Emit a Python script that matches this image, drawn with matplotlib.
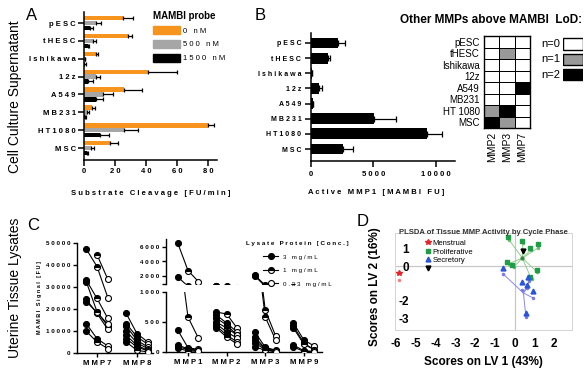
import matplotlib
matplotlib.use('Agg')
import matplotlib.pyplot as plt
import numpy as np
from matplotlib.patches import Patch, Rectangle
from matplotlib.lines import Line2D
from matplotlib.colors import ListedColormap

plt.rcParams['font.family'] = ['Liberation Sans', 'DejaVu Sans']

# ---- data ----
cells = ['pESC', 'tHESC', 'Ishikawa', '12z', 'A549', 'MB231', 'HT1080', 'MSC']

# Panel A: substrate cleavage [FU/min], mean and mean+err
a_0nM = [25.3, 28.0, 7.6, 40.9, 25.7, 5.4, 80.0, 17.0]
a_0nM_hi = [31.8, 31.0, 9.0, 59.5, 37.0, 7.0, 83.7, 22.0]
a_500nM = [7.6, 5.8, 0.5, 7.6, 12.3, 2.0, 25.7, 4.8]
a_500nM_hi = [11.0, 8.0, 0.8, 10.0, 18.4, 3.2, 34.4, 6.5]
a_1500nM = [3.7, 2.6, 0.3, 2.6, 8.0, 0.9, 10.2, 2.0]
a_1500nM_hi = [6.0, 3.5, 1.5, 5.8, 12.3, 1.5, 16.0, 2.6]
probe_labels = ['0 nM', '500 nM', '1500 nM']

# Panel B: active MMP1 [MAMBI FU]
b_mmp1 = [2190, 1390, 100, 670, 150, 5050, 9310, 2540]
b_mmp1_hi = [2730, 1520, 120, 850, 170, 6790, 10510, 3400]

# heatmap: other MMPs above LoD (n of 2)
hm_cols = ['MMP2', 'MMP3', 'MMP7']
hm_rows = ['pESC', 'tHESC', 'Ishikawa', '12z', 'A549', 'MB231', 'HT 1080', 'MSC']
hm_vals = [[0, 0, 0], [0, 1, 0], [0, 0, 0], [0, 0, 0],
           [0, 0, 2], [0, 0, 0], [1, 2, 0], [2, 1, 0]]
hm_levels = [0, 1, 2]

# Panel C: MAMBI signal per tissue sample at 3, 1, 0.33 mg/mL
conc_labels = ['3 mg/mL', '1 mg/mL', '0.33 mg/mL']
mmp7 = [[47300, 39300, 25200], [np.nan, 44700, 33500], [33200, 24800, 15700],
        [32500, 18800, 12200], [24400, 18000, 10700], [23300, 18500, 13000],
        [13400, 6500, 3200], [9900, 5000, 2000]]
mmp8 = [[18000, 8800, 5000], [13400, 7300, 4000], [12200, 5800, 2700],
        [10000, 4600, 2000], [8000, 3500, 1200], [6500, 2700, 1000], [5000, 1200, 500]]
mmp1 = [[6600, 2750, 1230], [1900, 580, 230], [370, 70, 45], [120, 50, 30],
        [90, 40, 20], [60, 20, 10]]
mmp2 = [[667, 633, 400], [617, 483, 333], [567, 450, 283], [500, 400, 283],
        [470, 333, 233], [433, 283, 167], [400, 250, 133]]
mmp3 = [[2130, 700, 267], [2000, 583, 200], [333, 80, 30], [250, 60, 20],
        [200, 50, 15], [150, 40, 10], [83, 30, 5]]
mmp9 = [[483, 200, 100], [433, 150, 33], [400, 130, 40], [117, 20, 10], [83, 10, 5]]
c_left_names = ['MMP7', 'MMP8']
c_right_names = ['MMP1', 'MMP2', 'MMP3', 'MMP9']

# Panel D: PLSDA scores (LV1, LV2)
men_x, men_y = [-5.84], [-0.38]
men_dot_x, men_dot_y = [-5.84], [-0.80]
pro_x = [-0.34, 0.36, 0.78, 1.21, -0.40, -0.14, 1.12, 0.78]
pro_y = [1.67, 1.44, 1.07, 1.27, 0.26, 0.05, -0.20, -0.64]
pro_dot_x = [-0.28, 0.42, 0.84, 1.18, -0.30, -0.05, 1.16, 0.86]
pro_dot_y = [1.52, 1.33, 0.96, 1.05, 0.14, -0.06, -0.36, -0.76]
pro_cent = (0.40, 0.47)
sec_x = [-0.57, 0.36, 0.70, 0.65, 0.95, 0.58]
sec_y = [-0.10, -0.91, -0.64, -1.10, -1.45, -2.71]
sec_dot_x = [-0.57, 0.36, 0.75, 0.65, 0.95, 0.58]
sec_dot_y = [-0.45, -1.36, -0.87, -1.26, -1.84, -2.95]
sec_cent = (0.45, -1.55)
black_x, black_y = [0.45], [0.90]

# ---- layout helpers ----
W, H = 585, 378


def box(l, t, r, b):
    return [l / W, 1 - b / H, (r - l) / W, (b - t) / H]


def sp(s):
    return ' '.join(s)


fig = plt.figure(figsize=(W / 100, H / 100), dpi=100)

# ---------------- Panel A ----------------
orange, grey = '#f7941d', '#a6a6a6'
axA = fig.add_axes(box(84, 12, 217, 160))
y = np.arange(len(cells))
for off, vals, hi, col in zip([-0.27, 0, 0.27],
                              [a_0nM, a_500nM, a_1500nM],
                              [a_0nM_hi, a_500nM_hi, a_1500nM_hi],
                              [orange, grey, 'black']):
    vals = np.array(vals)
    axA.barh(y + off, vals, height=0.25, color=col)
    axA.errorbar(vals, y + off, xerr=[np.zeros(len(vals)), np.array(hi) - vals],
                 fmt='none', ecolor='k', elinewidth=0.9, capsize=1.5, capthick=0.9)
axA.set_xlim(0, 85.5)
axA.set_ylim(7.67, -0.62)
axA.set_xticks([0, 20, 40, 60, 80])
axA.set_xticklabels([sp(str(v)) for v in [0, 20, 40, 60, 80]], fontsize=5.5, weight='bold')
axA.set_yticks(y)
axA.set_yticklabels([sp(c) for c in cells], fontsize=5.5, weight='bold')
axA.set_xlabel(sp('Substrate Cleavage [FU/min]'), fontsize=5.5, weight='bold')
axA.xaxis.set_label_coords(0.5, -0.2)
for s in ['top', 'right']:
    axA.spines[s].set_visible(False)
for s in ['left', 'bottom']:
    axA.spines[s].set_linewidth(1.1)
axA.tick_params(width=1.1, length=4, pad=2)

handles = [Patch(color=c) for c in [orange, grey, 'black']]
axA.legend(handles, [sp(l) for l in probe_labels], loc='upper left',
           bbox_to_anchor=(149 / W, 1 - 7 / H), bbox_transform=fig.transFigure,
           frameon=False, title='MAMBI probe',
           title_fontproperties={'weight': 'bold', 'size': 7}, fontsize=5.5,
           handlelength=3.5, handleheight=1.2, labelspacing=0.7, borderpad=0,
           handletextpad=0.5, alignment='left')

fig.text(32 / W, 1 - 15 / H, 'A', fontsize=12, ha='center', va='center')
fig.text(15 / W, 1 - 97 / H, 'Cell Culture Supernatant', fontsize=10, rotation=90,
         ha='center', va='center')

# ---------------- Panel B ----------------
axB = fig.add_axes(box(311, 33, 455, 161))
b = np.array(b_mmp1)
axB.barh(y, b, height=0.72, color='black')
axB.errorbar(b, y, xerr=[np.zeros(len(b)), np.array(b_mmp1_hi) - b], fmt='none',
             ecolor='k', elinewidth=0.9, capsize=2, capthick=0.9)
axB.set_xlim(0, 11560)
axB.set_ylim(7.79, -0.66)
axB.set_xticks([0, 5000, 10000])
axB.set_xticklabels([sp(str(v)) for v in [0, 5000, 10000]], fontsize=5.5, weight='bold')
axB.set_yticks(y)
axB.set_yticklabels([sp(c) for c in cells], fontsize=5, weight='bold')
axB.set_xlabel(sp('Active MMP1 [MAMBI FU]'), fontsize=5.5, weight='bold')
axB.xaxis.set_label_coords(0.45, -0.22)
for s in ['top', 'right']:
    axB.spines[s].set_visible(False)
for s in ['left', 'bottom']:
    axB.spines[s].set_linewidth(1.1)
axB.tick_params(width=1.1, length=4, pad=3)
fig.text(260 / W, 1 - 15 / H, 'B', fontsize=12, ha='center', va='center')

# heatmap
cmap = ListedColormap(['white', '#999999', 'black'])
axH = fig.add_axes(box(484, 36, 530, 128))
axH.pcolormesh(np.array(hm_vals), cmap=cmap, vmin=-0.5, vmax=2.5,
               edgecolors='k', linewidth=0.6)
axH.set_ylim(len(hm_rows), 0)
axH.set_xticks(np.arange(len(hm_cols)) + 0.5)
axH.set_xticklabels(hm_cols, rotation=90, fontsize=7.5)
axH.set_yticks(np.arange(len(hm_rows)) + 0.5)
axH.set_yticklabels(hm_rows, fontsize=7)
axH.tick_params(length=0, pad=3)
for s in axH.spines.values():
    s.set_linewidth(1.0)

axK = fig.add_axes(box(563, 37, 583, 83))
axK.set_xlim(0, 1)
axK.set_ylim(3, 0)
axK.axis('off')
for i, lvl in enumerate(hm_levels):
    axK.add_patch(Rectangle((0, i + 0.08), 1, 0.74, facecolor=cmap(lvl),
                            edgecolor='k', linewidth=1.0))
    axK.text(-0.12, i + 0.45, f'n={lvl}', ha='right', va='center', fontsize=8)

fig.text(400 / W, 1 - 20 / H, 'Other MMPs above MAMBI  LoD:', fontsize=8.5,
         weight='bold', va='center')

# ---------------- Panel C ----------------
offs = np.array([-0.27, 0, 0.27])
mstyles = [dict(marker='o', mfc='k', mec='k'),
           dict(marker='o', fillstyle='top', mfc='k', mfcalt='w', mec='k'),
           dict(marker='o', mfc='w', mec='k')]


def draw_group(ax, i, samples):
    for s in samples:
        ax.plot(i + offs, s, color='k', lw=0.8, zorder=2)
    for s in samples:
        for j in range(3):
            ax.plot(i + offs[j], s[j], ls='none', markersize=4.3, mew=0.8,
                    zorder=3, **mstyles[j])


axC1 = fig.add_axes(box(77, 243, 153, 353))
for i, g in enumerate([mmp7, mmp8]):
    draw_group(axC1, i, g)
axC1.set_xlim(-0.5, 1.4)
axC1.set_ylim(0, 50000)
axC1.set_yticks(range(0, 50001, 10000))
axC1.set_yticklabels([sp(str(v)) for v in range(0, 50001, 10000)], fontsize=4.5,
                     weight='bold')
axC1.set_xticks(range(len(c_left_names)))
axC1.set_xticklabels([sp(n) for n in c_left_names], fontsize=5.5, weight='bold')
axC1.set_ylabel(sp('MAMBI Signal [FU]'), fontsize=4, weight='bold')
axC1.yaxis.set_label_coords(-0.46, 0.5)

axC2t = fig.add_axes(box(166, 239, 322, 284))
axC2b = fig.add_axes(box(166, 292, 322, 352))
for ax in [axC2t, axC2b]:
    for i, g in enumerate([mmp1, mmp2, mmp3, mmp9]):
        draw_group(ax, i, g)
    ax.set_xlim(-0.57, 3.47)
axC2t.set_ylim(900, 7100)
axC2t.set_yticks([900, 2000, 4000, 6000])
axC2t.set_yticklabels(['', sp('2000'), sp('4000'), sp('6000')], fontsize=4.5,
                      weight='bold')
axC2t.set_xticks([])
axC2t.spines['bottom'].set_visible(False)
axC2b.set_ylim(0, 1000)
axC2b.set_yticks([0, 500, 1000])
axC2b.set_yticklabels([sp(str(v)) for v in [0, 500, 1000]], fontsize=4.5, weight='bold')
axC2b.set_xticks(range(len(c_right_names)))
axC2b.set_xticklabels([sp(n) for n in c_right_names], fontsize=5.5, weight='bold')
axC2b.spines['top'].set_visible(False)

for ax in [axC1, axC2t, axC2b]:
    ax.spines['top'].set_visible(False)
    ax.spines['right'].set_visible(False)
    for s in ['left', 'bottom']:
        ax.spines[s].set_linewidth(1.0)
    ax.tick_params(width=1.0, length=3, pad=2)

c_handles = [Line2D([], [], color='k', lw=0.8, markersize=4.3, mew=0.8, **m)
             for m in mstyles]
fig.legend(c_handles, [sp(l) for l in conc_labels], loc='upper left',
           bbox_to_anchor=(243 / W, 1 - 238 / H), frameon=False,
           title=sp('Lysate Protein [Conc.]'),
           title_fontproperties={'weight': 'bold', 'size': 4.5}, fontsize=4.5,
           handlelength=2.4, labelspacing=1.3, borderpad=0, handletextpad=0.8)

fig.text(33 / W, 1 - 226 / H, 'C', fontsize=12, ha='center', va='center')
fig.text(15 / W, 1 - 288 / H, 'Uterine Tissue Lysates', fontsize=10, rotation=90,
         ha='center', va='center')

# ---------------- Panel D ----------------
red, green, blue = '#e3262b', '#1f9e47', '#2a55d8'
axD = fig.add_axes(box(395, 233, 572, 330))
axD.axhline(0, color='#c8c8c8', lw=0.9, zorder=0)
axD.axvline(0, color='#c8c8c8', lw=0.9, zorder=0)
for dx, dy in zip(pro_dot_x, pro_dot_y):
    axD.plot([pro_cent[0], dx], [pro_cent[1], dy], color='#8fd08f', lw=0.7, zorder=1)
for dx, dy in zip(sec_dot_x, sec_dot_y):
    axD.plot([sec_cent[0], dx], [sec_cent[1], dy], color='#8888e8', lw=0.7, zorder=1)
axD.plot(pro_dot_x, pro_dot_y, ls='none', marker='o', ms=1.5, color='#6cc46c')
axD.plot(sec_dot_x, sec_dot_y, ls='none', marker='o', ms=1.5, color='#7a7ae0')
axD.plot(men_dot_x, men_dot_y, ls='none', marker='o', ms=1.5, color='#f08080',
         clip_on=False)
axD.plot([pro_cent[0]], [pro_cent[1]], ls='none', marker='o', ms=2, color='#3a8a3a')
axD.plot(men_x, men_y, ls='none', marker='*', ms=4, color=red, clip_on=False)
axD.plot(pro_x, pro_y, ls='none', marker='s', ms=3, color=green)
axD.plot(sec_x, sec_y, ls='none', marker='^', ms=3.5, color=blue)
axD.plot(black_x, black_y, ls='none', marker='v', ms=3.5, color='black')
axD.set_xlim(-6.05, 2.91)
axD.set_ylim(-3.69, 1.92)
axD.set_xticks(range(-6, 3))
axD.set_xticklabels([str(v) for v in range(-6, 3)], fontsize=8.5, weight='bold')
axD.set_yticks([1, 0, -2, -3])
axD.set_yticklabels(['1', '0', '-2', '-3'], fontsize=8.5, weight='bold')
axD.tick_params(axis='x', length=0, pad=6)
axD.tick_params(axis='y', length=0, pad=-10)
for s in axD.spines.values():
    s.set_color('#d4d4d4')
    s.set_linewidth(0.7)
axD.set_xlabel('Scores on LV 1 (43%)', fontsize=8.5, weight='bold')
axD.xaxis.set_label_coords(0.5, -0.27)
axD.set_ylabel('Scores on LV 2 (16%)', fontsize=8.5, weight='bold')
axD.yaxis.set_label_coords(-0.08, 0.45)
axD.text(0.5, 1.0, 'PLSDA of Tissue MMP Activity by Cycle Phase', transform=axD.transAxes,
         ha='center', va='center', fontsize=5.5, weight='bold', color='#333333')
d_handles = [Line2D([], [], ls='none', marker='*', ms=4, color=red),
             Line2D([], [], ls='none', marker='s', ms=3, color=green),
             Line2D([], [], ls='none', marker='^', ms=3.5, color=blue),
             Line2D([], [], ls='none', marker='v', ms=3.5, color='black')]
axD.legend(d_handles, ['Menstrual', 'Proliferative', 'Secretory', ''], loc='upper left',
           bbox_to_anchor=(422 / W, 1 - 236 / H), bbox_transform=fig.transFigure,
           frameon=False, fontsize=5.5, handlelength=0.6, handletextpad=0.3,
           labelspacing=0.15, borderpad=0)
fig.text(363 / W, 1 - 222 / H, 'D', fontsize=12, ha='center', va='center')

fig.savefig('out.png', dpi=100)
